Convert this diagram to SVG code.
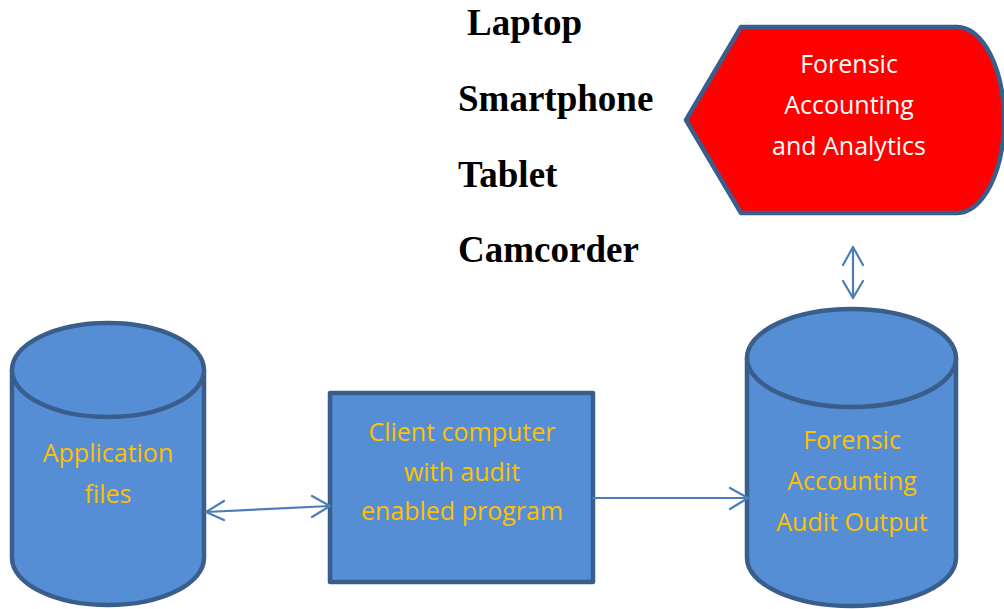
<svg xmlns="http://www.w3.org/2000/svg" width="1004" height="609" viewBox="0 0 1004 609">
  <defs>
    <style>
      .shape { fill: #558ED5; stroke: #3A5E8C; stroke-width: 4.5; stroke-linejoin: round; }
      .lbl { font-family: "Open Sans", "Liberation Sans", sans-serif; font-size: 25px; fill: #FFC000; text-anchor: middle; }
      .lbl-w { font-family: "Open Sans", "Liberation Sans", sans-serif; font-size: 25px; fill: #FFFFFF; text-anchor: middle; }
      .dev { font-family: "Liberation Serif", "Times New Roman", serif; font-weight: bold; font-size: 37px; fill: #000000; }
      .conn { fill: none; stroke: #4A7EBB; stroke-width: 2.2; stroke-linecap: round; stroke-linejoin: round; }
    </style>
  </defs>
  <rect width="1004" height="609" fill="#FFFFFF"/>

  <!-- device list -->
  <g id="devices">
    <text class="dev" x="467" y="35">Laptop</text>
    <text class="dev" x="458" y="111">Smartphone</text>
    <text class="dev" x="458" y="187">Tablet</text>
    <text class="dev" x="458" y="262">Camcorder</text>
  </g>

  <!-- display-shaped analytics node -->
  <g id="analytics">
    <path class="shape" style="fill:#FF0000" d="M686,120 L741,27 L957,27 A47,93 0 0 1 957,213 L741,213 Z"/>
    <text class="lbl-w" x="849" y="73">Forensic</text>
    <text class="lbl-w" x="849" y="114">Accounting</text>
    <text class="lbl-w" x="849" y="155">and Analytics</text>
  </g>

  <!-- application files store -->
  <g id="app-files">
    <path class="shape" d="M12,370 L12,558 A96,47 0 0 0 204,558 L204,370"/>
    <ellipse class="shape" cx="108" cy="370" rx="96" ry="47"/>
    <text class="lbl" x="108" y="462">Application</text>
    <text class="lbl" x="108" y="503">files</text>
  </g>

  <!-- client computer -->
  <g id="client">
    <rect class="shape" x="330" y="393" width="263" height="189"/>
    <text class="lbl" x="462" y="441">Client computer</text>
    <text class="lbl" x="462" y="481">with audit</text>
    <text class="lbl" x="462" y="520">enabled program</text>
  </g>

  <!-- audit output store -->
  <g id="audit-output">
    <path class="shape" d="M747,358 L747,558 A104.5,48 0 0 0 956,558 L956,358"/>
    <ellipse class="shape" cx="851.5" cy="358" rx="104.5" ry="49"/>
    <text class="lbl" x="852" y="449">Forensic</text>
    <text class="lbl" x="852" y="490">Accounting</text>
    <text class="lbl" x="852" y="531">Audit Output</text>
  </g>

  <!-- connectors -->
  <g id="connectors">
    <!-- files <-> client -->
    <path class="conn" d="M206,512 L330,506"/>
    <path class="conn" d="M224,501 L206,512 L224,520"/>
    <path class="conn" d="M312,496 L330,506 L312,517"/>
    <!-- client -> output -->
    <path class="conn" d="M593,498 L748,498"/>
    <path class="conn" d="M730,488 L748,498 L730,509"/>
    <!-- output <-> analytics -->
    <path class="conn" d="M853,247 L853,298"/>
    <path class="conn" d="M843,265 L853,247 L863,265"/>
    <path class="conn" d="M843,281 L853,298 L863,281"/>
  </g>
</svg>
